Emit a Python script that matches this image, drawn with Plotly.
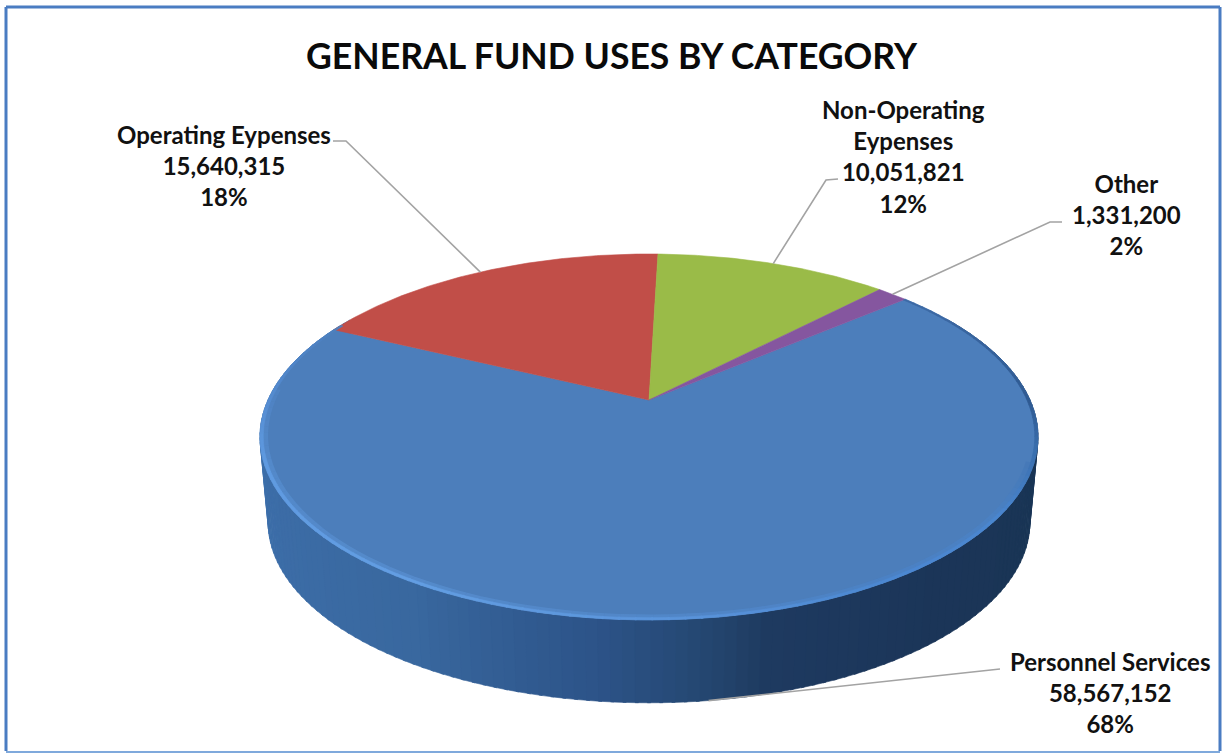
import numpy as np
import plotly.graph_objects as go

# General fund uses, in dollars
categories = ["Personnel Services", "Operating Eypenses", "Non-Operating<br>Eypenses", "Other"]
amounts = [58567152, 15640315, 10051821, 1331200]
slice_colors = ["#4c7ebb", "#c14e48", "#9abb48", "#85569f"]
title_text = "GENERAL FUND USES BY CATEGORY"

# Where each callout text sits, and the leader's start and elbow
label_centers = [(1110, 692), (224, 165), (903, 156), (1126, 214)]
leader_starts = [(1000, 669), (333, 141), (838, 179), (1062, 222)]
leader_elbows = [(1000, 669), (346, 141), (826, 180), (1050, 222)]

# Clockwise angle of the first slice's leading edge, measured from the back of the disc
FIRST_ANGLE = 49.5

# Perspective disc: top plane and bottom plane of the extruded pie
CX, PERSP = 649.0, 0.202
TOP = dict(y0=400.0, a=381.0, b=175.5)
BOTTOM = dict(y0=486.0, a=373.0, b=173.0)

# Shading along the side wall and the bevel, keyed by clockwise angle
wall_angles = [60, 95, 110, 140, 165, 172, 185, 210, 250, 270, 300]
wall_colors = ["#1c3558", "#1f3c60", "#1a3555", "#1b3558", "#1e3a60", "#24466f",
               "#2c5388", "#39689f", "#3d6ea9", "#4a7dbb", "#4a7dbb"]
bevel_angles = [50, 90, 105, 125, 150, 175, 210, 250, 275, 300, 340]
bevel_colors = ["#3d6aa6", "#2f5a92", "#3a6fae", "#4a86cf", "#4c88d2", "#5a94da",
                "#639ee3", "#5f9ae0", "#5288cc", "#4c7ebb", "#4c7ebb"]

# Range of angles over which the soft inner band shows
SOFT_BAND = (108, 272)


def project(theta_deg, plane, r=1.0):
    t = np.radians(np.asarray(theta_deg, dtype=float))
    u, v = r * np.sin(t), -r * np.cos(t)
    w = 1 - PERSP * v
    return CX + plane["a"] * u / w, plane["y0"] + plane["b"] * v / w


def hex_rgb(h):
    return np.array([int(h[i:i + 2], 16) for i in (1, 3, 5)], dtype=float)


def shade(theta, keys, colors, alpha=1.0):
    rgb = np.array([hex_rgb(c) for c in colors])
    vals = [int(round(np.interp(theta, keys, rgb[:, i]))) for i in range(3)]
    return "rgba(%d,%d,%d,%.2f)" % (vals[0], vals[1], vals[2], alpha)


def polygon(xs, ys, color, edge=0.6):
    return go.Scatter(x=list(xs), y=list(ys), mode="lines", fill="toself",
                      fillcolor=color, line=dict(color=color, width=edge),
                      hoverinfo="skip", showlegend=False)


total = sum(amounts)
sweeps = [360.0 * v / total for v in amounts]
starts = FIRST_ANGLE + np.concatenate(([0.0], np.cumsum(sweeps)[:-1]))
mids = starts + np.array(sweeps) / 2

fig = go.Figure()

# Side wall, far segments first so nearer ones overlap them
step = 1.5
wall_thetas = np.arange(60, 300, step)
order = np.argsort(np.abs(wall_thetas - 180))[::-1]
for th in wall_thetas[order]:
    arc = np.array([th - 0.2, th + step + 0.2])
    xt, yt = project(arc, TOP)
    xb, yb = project(arc, BOTTOM)
    fig.add_trace(polygon(np.r_[xt, xb[::-1], xt[0]], np.r_[yt, yb[::-1], yt[0]],
                          shade(th, wall_angles, wall_colors)))

# Top face slices
for start, sweep, color in zip(starts, sweeps, slice_colors):
    arc = np.linspace(start, start + sweep, max(int(sweep * 2), 6))
    xs, ys = project(arc, TOP)
    fig.add_trace(polygon(np.r_[CX, xs, CX], np.r_[TOP["y0"], ys, TOP["y0"]], color))

# Bevel along the rim of the largest slice: a soft inner band, then a crisp edge
bevel_step = 2.0
for th in np.arange(starts[0], starts[0] + sweeps[0], bevel_step):
    if SOFT_BAND[0] <= th <= SOFT_BAND[1]:
        arc = np.array([th, th + bevel_step])
        xo, yo = project(arc, TOP)
        xm, ym = project(arc, TOP, r=0.98)
        fig.add_trace(polygon(np.r_[xo, xm[::-1], xo[0]], np.r_[yo, ym[::-1], yo[0]],
                              shade(th, bevel_angles, bevel_colors, alpha=0.4), edge=0))
    arc = np.array([th, th + bevel_step + 0.2])
    xo, yo = project(arc, TOP)
    xi, yi = project(arc, TOP, r=0.992)
    fig.add_trace(polygon(np.r_[xo, xi[::-1], xo[0]], np.r_[yo, yi[::-1], yo[0]],
                          shade(th, bevel_angles, bevel_colors)))

# Leader lines from each callout to the rim at the slice's middle angle
for i, mid in enumerate(mids):
    plane = BOTTOM if 100 < (mid % 360) < 260 else TOP
    ax, ay = project(mid, plane)
    sx, sy = leader_starts[i]
    ex, ey = leader_elbows[i]
    fig.add_trace(go.Scatter(x=[sx, ex, float(ax)], y=[sy, ey, float(ay)], mode="lines",
                             line=dict(color="#a3a3a3", width=1.6),
                             hoverinfo="skip", showlegend=False))

annotations = [dict(x=612, y=55, xref="x", yref="y", text=f"<b>{title_text}</b>", showarrow=False,
                    font=dict(family="Lato", size=35.6, color="#0a0a0a"),
                    xanchor="center", yanchor="middle")]
for name, amount, (lx, ly) in zip(categories, amounts, label_centers):
    text = f"<b>{name}<br>{amount:,}<br>{round(100 * amount / total)}%</b>"
    annotations.append(dict(x=lx, y=ly, xref="x", yref="y", text=text, showarrow=False, align="center",
                            font=dict(family="Lato", size=24, color="#111111"),
                            xanchor="center", yanchor="middle"))

frame = [
    dict(type="line", x0=6, y0=7, x1=1220, y1=7, line=dict(color="#4a7cc2", width=3)),
    dict(type="line", x0=6, y0=7, x1=6, y1=751, line=dict(color="#4a7cc2", width=3)),
    dict(type="line", x0=1220, y0=7, x1=1220, y1=751, line=dict(color="#4a7cc2", width=3)),
    dict(type="line", x0=6, y0=752, x1=1220, y1=752, line=dict(color="#7fa9dc", width=2)),
]

fig.update_layout(
    width=1225, height=753, margin=dict(l=0, r=0, t=0, b=0),
    paper_bgcolor="white", plot_bgcolor="white", showlegend=False,
    xaxis=dict(range=[0, 1225], visible=False, fixedrange=True),
    yaxis=dict(range=[753, 0], visible=False, fixedrange=True),
    annotations=annotations, shapes=frame,
)

fig.write_html("out.html", config={"displayModeBar": False})
